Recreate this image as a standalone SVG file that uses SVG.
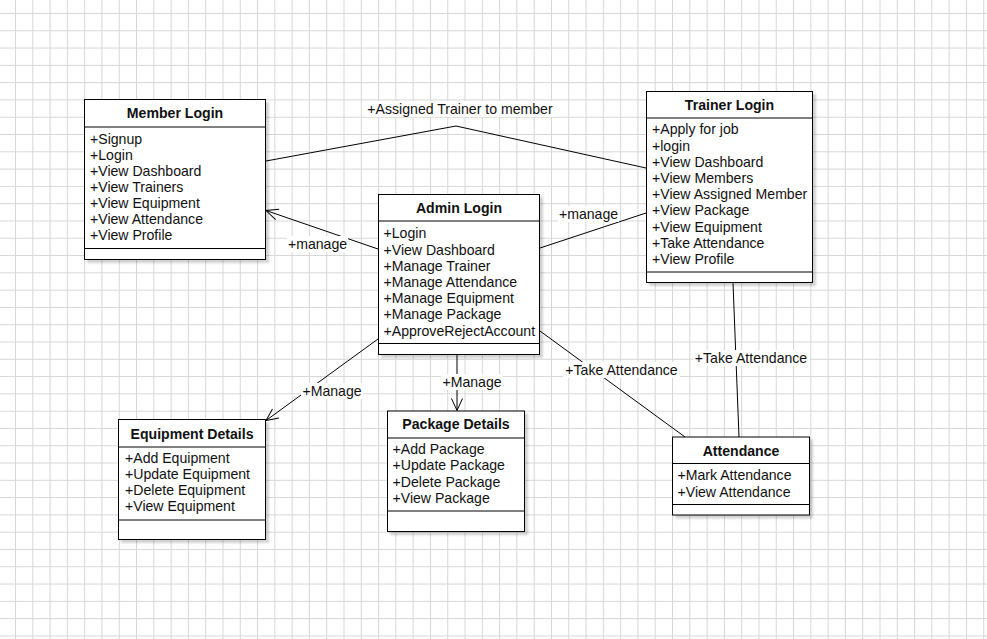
<svg xmlns="http://www.w3.org/2000/svg" width="987" height="639" viewBox="0 0 987 639">
<defs>
<pattern id="grid" x="15" y="13" width="17.29" height="17.29" patternUnits="userSpaceOnUse">
<path d="M0,0.5 H17.29 M0.5,0 V17.29" fill="none" stroke="#d6d6d6" stroke-width="1"/>
</pattern>
<filter id="sh" x="-10%" y="-10%" width="130%" height="130%">
<feDropShadow dx="3" dy="3" stdDeviation="1.2" flood-color="#000" flood-opacity="0.18"/>
</filter>
<marker id="open" markerUnits="userSpaceOnUse" markerWidth="16" markerHeight="16" refX="13" refY="6" orient="auto">
<path d="M1,0.5 L13,6 L1,11.5" fill="none" stroke="#000" stroke-width="1"/>
</marker>
<style>
.box{fill:#fff;stroke:#000;stroke-width:1;filter:url(#sh)}
.sep{stroke:#000;stroke-width:1}
.t{font-family:"Liberation Sans",Arial,sans-serif;font-size:14.1px;fill:#111}
.title{font-weight:bold;text-anchor:middle}
.c{fill:none;stroke:#000;stroke-width:1}
.lbg{fill:#fff}
.lbl{text-anchor:middle}
</style>
</defs>
<rect width="987" height="639" fill="#fff"/>
<rect width="987" height="639" fill="url(#grid)"/>

<g id="connectors">
<polyline class="c" points="266,161 456,126 646,168"/>
<line class="c" x1="378" y1="249" x2="266" y2="210.5" marker-end="url(#open)"/>
<line class="c" x1="540" y1="248" x2="646" y2="213"/>
<line class="c" x1="378" y1="339" x2="266" y2="420.5" marker-end="url(#open)"/>
<line class="c" x1="457" y1="354" x2="457" y2="410.5" marker-end="url(#open)"/>
<line class="c" x1="540" y1="331" x2="685" y2="437"/>
<line class="c" x1="733" y1="283" x2="739" y2="437"/>
<rect class="lbg" x="366" y="101" width="188" height="16"/>
<text class="t lbl" x="460" y="114">+Assigned Trainer to member</text>
<rect class="lbg" x="287" y="236" width="61" height="16"/>
<text class="t lbl" x="317.5" y="249">+manage</text>
<rect class="lbg" x="558" y="206" width="61" height="16"/>
<text class="t lbl" x="588.5" y="219">+manage</text>
<rect class="lbg" x="301" y="383" width="62" height="16"/>
<text class="t lbl" x="332" y="396">+Manage</text>
<rect class="lbg" x="441" y="374" width="62" height="16"/>
<text class="t lbl" x="472" y="387">+Manage</text>
<rect class="lbg" x="563" y="362" width="117" height="16"/>
<text class="t lbl" x="621.5" y="375">+Take Attendance</text>
<rect class="lbg" x="693" y="350" width="117" height="16"/>
<text class="t lbl" x="751" y="363">+Take Attendance</text>
</g>

<g id="member-login">
<rect class="box" x="84.5" y="99.5" width="181" height="160"/>
<line class="sep" x1="84.5" y1="127" x2="265.5" y2="127"/>
<line class="sep" x1="84.5" y1="248.5" x2="265.5" y2="248.5"/>
<text class="t title" x="175" y="118">Member Login</text>
<text class="t" x="90" y="144">
<tspan x="90">+Signup</tspan>
<tspan x="90" dy="16.05">+Login</tspan>
<tspan x="90" dy="16.05">+View Dashboard</tspan>
<tspan x="90" dy="16.05">+View Trainers</tspan>
<tspan x="90" dy="16.05">+View Equipment</tspan>
<tspan x="90" dy="16.05">+View Attendance</tspan>
<tspan x="90" dy="16.05">+View Profile</tspan>
</text>
</g>

<g id="admin-login">
<rect class="box" x="378.5" y="194.5" width="161" height="160"/>
<line class="sep" x1="378.5" y1="221" x2="539.5" y2="221"/>
<line class="sep" x1="378.5" y1="343.5" x2="539.5" y2="343.5"/>
<text class="t title" x="459" y="213">Admin Login</text>
<text class="t" x="383.5" y="238.3">
<tspan x="383.5">+Login</tspan>
<tspan x="383.5" dy="16.23">+View Dashboard</tspan>
<tspan x="383.5" dy="16.23">+Manage Trainer</tspan>
<tspan x="383.5" dy="16.23">+Manage Attendance</tspan>
<tspan x="383.5" dy="16.23">+Manage Equipment</tspan>
<tspan x="383.5" dy="16.23">+Manage Package</tspan>
<tspan x="383.5" dy="16.23">+ApproveRejectAccount</tspan>
</text>
</g>

<g id="trainer-login">
<rect class="box" x="646.5" y="91.5" width="166" height="191"/>
<line class="sep" x1="646.5" y1="118" x2="812.5" y2="118"/>
<line class="sep" x1="646.5" y1="272" x2="812.5" y2="272"/>
<text class="t title" x="729.5" y="110">Trainer Login</text>
<text class="t" x="652" y="134.3">
<tspan x="652">+Apply for job</tspan>
<tspan x="652" dy="16.2">+login</tspan>
<tspan x="652" dy="16.2">+View Dashboard</tspan>
<tspan x="652" dy="16.2">+View Members</tspan>
<tspan x="652" dy="16.2">+View Assigned Member</tspan>
<tspan x="652" dy="16.2">+View Package</tspan>
<tspan x="652" dy="16.2">+View Equipment</tspan>
<tspan x="652" dy="16.2">+Take Attendance</tspan>
<tspan x="652" dy="16.2">+View Profile</tspan>
</text>
</g>

<g id="equipment-details">
<rect class="box" x="118.5" y="419.5" width="147" height="120"/>
<line class="sep" x1="118.5" y1="447" x2="265.5" y2="447"/>
<line class="sep" x1="118.5" y1="520" x2="265.5" y2="520"/>
<text class="t title" x="192" y="439">Equipment Details</text>
<text class="t" x="125" y="463.3">
<tspan x="125">+Add Equipment</tspan>
<tspan x="125" dy="15.9">+Update Equipment</tspan>
<tspan x="125" dy="15.9">+Delete Equipment</tspan>
<tspan x="125" dy="15.9">+View Equipment</tspan>
</text>
</g>

<g id="package-details">
<rect class="box" x="387.5" y="411" width="137" height="120.5"/>
<line class="sep" x1="387.5" y1="438" x2="524.5" y2="438"/>
<line class="sep" x1="387.5" y1="511" x2="524.5" y2="511"/>
<text class="t title" x="456" y="429">Package Details</text>
<text class="t" x="392.5" y="454.3">
<tspan x="392.5">+Add Package</tspan>
<tspan x="392.5" dy="16.1">+Update Package</tspan>
<tspan x="392.5" dy="16.1">+Delete Package</tspan>
<tspan x="392.5" dy="16.1">+View Package</tspan>
</text>
</g>

<g id="attendance">
<rect class="box" x="672.5" y="437" width="137" height="78"/>
<line class="sep" x1="672.5" y1="463.5" x2="809.5" y2="463.5"/>
<line class="sep" x1="672.5" y1="504.5" x2="809.5" y2="504.5"/>
<text class="t title" x="741" y="456">Attendance</text>
<text class="t" x="677.5" y="480">
<tspan x="677.5">+Mark Attendance</tspan>
<tspan x="677.5" dy="16.5">+View Attendance</tspan>
</text>
</g>
</svg>
